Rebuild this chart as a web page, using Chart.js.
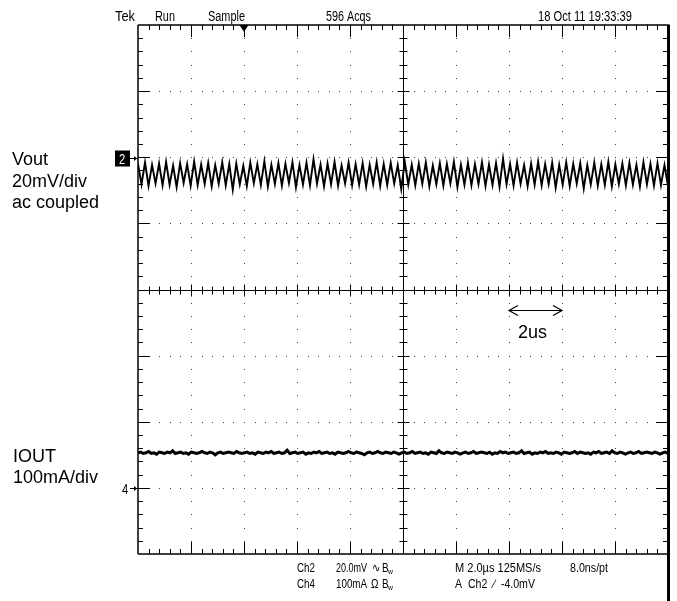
<!DOCTYPE html>
<html><head><meta charset="utf-8">
<script src="https://cdn.jsdelivr.net/npm/chart.js@4/dist/chart.umd.min.js"></script>
<style>html,body{margin:0;padding:0;background:#fff;}canvas{display:block;}</style>
</head><body>
<canvas id="c" width="677" height="601"></canvas>
<script>
// ---- data ----
// Ch2: Vout ripple in mV, relative to the Ch2 ground marker (peak / trough samples)
const voutMv = [
-2.0,-8.2,-1.6,-8.7,-2.3,-7.9,-1.9,-8.5,-1.4,-8.3,-2.5,-9.0,-1.8,-7.8,-2.1,-8.6,-1.3,-8.4,-2.2,-8.1,
-1.7,-8.8,-2.4,-8.0,-1.5,-8.5,-2.0,-9.8,-1.9,-8.2,-2.6,-8.7,-1.6,-7.9,-2.1,-8.4,-1.2,-8.9,-2.3,-8.1,
-1.8,-8.6,-2.0,-7.8,-1.5,-9.1,-2.4,-8.3,-1.7,-8.5,-0.6,-8.0,-2.2,-8.8,-1.9,-8.2,-1.4,-8.6,-2.5,-7.9,
-1.6,-8.5,-2.1,-8.3,-1.8,-8.9,-2.3,-8.1,-1.5,-8.7,-2.0,-8.4,-1.7,-8.0,-2.4,-9.6,-1.3,-8.3,-2.2,-8.5,
-1.9,-8.1,-1.6,-8.8,-2.5,-8.2,-1.8,-8.6,-2.0,-7.9,-1.4,-9.0,-2.3,-8.3,-1.7,-8.5,-2.1,-8.1,-1.5,-8.7,
-2.2,-8.4,-1.8,-8.9,-0.4,-8.2,-2.0,-8.6,-1.6,-8.0,-2.4,-8.8,-1.9,-8.3,-1.3,-8.5,-2.1,-8.1,-1.7,-9.2,
-2.3,-8.3,-1.5,-8.7,-2.0,-8.0,-1.8,-9.5,-2.4,-8.2,-1.6,-8.6,-2.1,-8.4,-1.4,-8.8,-2.2,-8.1,-1.9,-8.5,
-1.7,-8.3,-2.3,-8.9,-1.5,-8.2,-2.0,-8.6,-1.8,-8.4,-2.4,-8.7
];
// Ch4: IOUT in mA, relative to the Ch4 ground marker
const ioutMa = [
53,54,52,53,55,52,53,51,54,53,52,54,53,56,52,53,54,52,53,51,
54,53,52,53,55,53,52,54,53,50,53,54,52,53,54,53,52,55,53,52,
53,54,52,53,51,54,53,52,54,53,55,52,53,54,52,53,57,52,53,54,
52,53,54,51,53,52,54,53,55,52,53,54,52,53,51,54,53,52,53,55,
53,52,54,53,52,50,53,54,52,53,55,53,52,54,53,52,54,53,51,53,
54,52,53,55,52,53,54,52,53,51,54,53,52,56,53,52,54,53,52,54,
53,51,53,54,52,53,55,52,53,54,53,52,54,51,53,52,55,53,54,52,
53,54,52,53,56,52,53,54,51,53,52,54,53,55,52,53,52,54,53,51,
54,53,52,53,55,52,54,53,52,53,51,54,53,55,52,53,54,52,56,53,
52,54,53,51,53,54,52,53,55,52,53,54,53,52,54,53,51,53,54,52
];
// scope settings
const usPerDiv = 2;          // M 2.0us
const hDivs = 10;
const vDivs = 8;
const ch2MvPerDiv = 20;      // 20.0mV
const ch4MaPerDiv = 100;     // 100mA
const ch2GroundDiv = 2;
const ch4GroundDiv = -3;
const triggerUs = 4;
const arrowFromUs = 14, arrowToUs = 16;
// texts
const headerLabels = ["Tek", "Run", "Sample", "596 Acqs", "18 Oct 11 19:33:39"];
const footerRow1 = ["Ch2", "20.0mV", "\u223F", "B", "M 2.0\u00B5s 125MS/s", "8.0ns/pt"];
const footerRow2 = ["Ch4", "100mA", "\u03A9", "B", "A  Ch2  \u2215  -4.0mV"];
const vLabel = ["Vout", "20mV/div", "ac coupled"];
const iLabel = ["IOUT", "100mA/div"];
const arrowLabel = "2us";

const sweepUs = usPerDiv * hDivs;
const voutPts = voutMv.map((mv, i) => ({x: i * sweepUs / (voutMv.length - 1), y: ch2GroundDiv + mv / ch2MvPerDiv}));
const ioutPts = ioutMa.map((ma, i) => ({x: i * sweepUs / (ioutMa.length - 1), y: ch4GroundDiv + ma / ch4MaPerDiv}));

const SANS = '"Liberation Sans", Arial, "DejaVu Sans", sans-serif';

function seg(ctx, x1, y1, x2, y2){ ctx.beginPath(); ctx.moveTo(x1, y1); ctx.lineTo(x2, y2); ctx.stroke(); }
// condensed text: horizontally squeezed sans, fitted to a width (or fixed squeeze)
function narrowText(ctx, t, x, y, size, w, sx){
  ctx.save();
  ctx.font = size + 'px ' + SANS;
  const s = w ? w / ctx.measureText(t).width : sx;
  ctx.translate(x, y); ctx.scale(s, 1);
  ctx.fillText(t, 0, 0);
  ctx.restore();
}

const scopePlugin = {
  id: 'scope',
  beforeDatasetsDraw(chart){
    const {ctx, chartArea: a, scales: {x, y}} = chart;
    ctx.save();
    ctx.fillStyle = '#444';
    for (let d = 1; d < hDivs; d++){
      if (d === hDivs / 2) continue;
      const px = Math.round(x.getPixelForValue(d * usPerDiv));
      for (let s = 1; s < vDivs * 5; s++){
        const py = Math.round(y.getPixelForValue(vDivs / 2 - s * 0.2));
        ctx.fillRect(px, py, 1, 1);
      }
    }
    for (let d = -vDivs / 2 + 1; d < vDivs / 2; d++){
      if (d === 0) continue;
      const py = Math.round(y.getPixelForValue(d));
      for (let s = 1; s < hDivs * 5; s++){
        const px = Math.round(x.getPixelForValue(s * 0.2 * usPerDiv));
        ctx.fillRect(px, py, 1, 1);
      }
    }
    ctx.strokeStyle = '#000'; ctx.lineWidth = 1;
    const cx = Math.round(x.getPixelForValue(sweepUs / 2)) + 0.5;
    const cy = Math.round(y.getPixelForValue(0)) + 0.5;
    seg(ctx, a.left, cy, a.right, cy);
    seg(ctx, cx, a.top, cx, a.bottom);
    for (let s = 1; s < hDivs * 5; s++){
      const px = Math.round(x.getPixelForValue(s * 0.2 * usPerDiv)) + 0.5;
      const L = s % 5 === 0 ? 6 : 4;
      seg(ctx, px, cy - L, px, cy + L);
      const B = s % 5 === 0 ? 12 : 5;
      seg(ctx, px, a.top, px, a.top + B);
      seg(ctx, px, a.bottom, px, a.bottom - B);
    }
    for (let s = 1; s < vDivs * 5; s++){
      const py = Math.round(y.getPixelForValue(vDivs / 2 - s * 0.2)) + 0.5;
      const L = s % 5 === 0 ? 6 : 4;
      seg(ctx, cx - L, py, cx + L, py);
      const B = s % 5 === 0 ? 12 : 5;
      seg(ctx, a.left, py, a.left + B, py);
      seg(ctx, a.right, py, a.right - B, py);
    }
    ctx.restore();
  },
  afterDraw(chart){
    const {ctx, chartArea: a, scales: {x, y}} = chart;
    const H = chart.height;
    ctx.save();
    ctx.strokeStyle = '#000'; ctx.fillStyle = '#000';
    ctx.textBaseline = 'alphabetic'; ctx.textAlign = 'left';
    ctx.lineWidth = 1.5;
    seg(ctx, a.left, a.top, a.right, a.top);
    seg(ctx, a.left, a.top, a.left, a.bottom);
    seg(ctx, a.left, a.bottom, a.right, a.bottom);
    ctx.lineWidth = 3;
    seg(ctx, a.right + 0.5, a.top - 0.5, a.right + 0.5, H);
    // trigger marker
    const tx = x.getPixelForValue(triggerUs);
    ctx.beginPath(); ctx.moveTo(tx - 4.5, a.top); ctx.lineTo(tx + 4.5, a.top); ctx.lineTo(tx, a.top + 7); ctx.closePath(); ctx.fill();
    // ch2 marker
    const c2 = Math.round(y.getPixelForValue(ch2GroundDiv)) + 1.5;
    ctx.fillRect(115, c2 - 8, 15, 16);
    ctx.fillStyle = '#fff';
    narrowText(ctx, '2', 119, c2 + 5, 14, 0, 0.8);
    ctx.fillStyle = '#000'; ctx.lineWidth = 1;
    seg(ctx, 130, c2, a.left, c2);
    ctx.beginPath(); ctx.moveTo(a.left - 1, c2); ctx.lineTo(a.left - 4, c2 - 2.5); ctx.lineTo(a.left - 4, c2 + 2.5); ctx.closePath(); ctx.fill();
    // ch4 marker
    const c4 = Math.round(y.getPixelForValue(ch4GroundDiv)) + 0.5;
    narrowText(ctx, '4', 122, c4 + 5, 14, 0, 0.8);
    seg(ctx, 130, c4, a.left, c4);
    ctx.beginPath(); ctx.moveTo(a.left - 1, c4); ctx.lineTo(a.left - 4, c4 - 2.5); ctx.lineTo(a.left - 4, c4 + 2.5); ctx.closePath(); ctx.fill();
    // header
    const hx = [115, 155, 208, 326, 538];
    const hw = [20, 20, 37, 45, 94];
    headerLabels.forEach((t, i) => narrowText(ctx, t, hx[i], 21, 14, hw[i]));
    // footer
    const fx1 = [297, 336, 372, 382, 455, 570];
    const fw1 = [18, 31, 0, 0, 86, 38];
    footerRow1.forEach((t, i) => narrowText(ctx, t, fx1[i], 572, 12.5, fw1[i], 0.8));
    const fx2 = [297, 336, 371, 382, 455];
    const fw2 = [18, 31, 0, 0, 80];
    footerRow2.forEach((t, i) => narrowText(ctx, t, fx2[i], 588, 12.5, fw2[i], 0.8));
    narrowText(ctx, 'w', 388, 574, 8, 0, 0.85);
    narrowText(ctx, 'w', 388, 590, 8, 0, 0.85);
    // left labels
    ctx.font = '18px ' + SANS;
    [165, 187, 208].forEach((by, i) => ctx.fillText(vLabel[i], 12, by));
    [462, 483].forEach((by, i) => ctx.fillText(iLabel[i], 13, by));
    // 2us arrow
    const ax1 = x.getPixelForValue(arrowFromUs), ax2 = x.getPixelForValue(arrowToUs);
    const ay = 310.5;
    ctx.lineWidth = 1.2;
    seg(ctx, ax1, ay, ax2, ay);
    ctx.beginPath(); ctx.moveTo(ax1 + 9, ay - 5); ctx.lineTo(ax1, ay); ctx.lineTo(ax1 + 9, ay + 5); ctx.stroke();
    ctx.beginPath(); ctx.moveTo(ax2 - 9, ay - 5); ctx.lineTo(ax2, ay); ctx.lineTo(ax2 - 9, ay + 5); ctx.stroke();
    ctx.font = '18px ' + SANS;
    ctx.fillText(arrowLabel, 518, 338);
    ctx.restore();
  }
};

new Chart(document.getElementById('c'), {
  type: 'line',
  data: {
    datasets: [
      {label: 'Vout', data: voutPts, borderColor: '#000', borderWidth: 1.9, pointRadius: 0, tension: 0},
      {label: 'IOUT', data: ioutPts, borderColor: '#000', borderWidth: 3, pointRadius: 0, tension: 0}
    ]
  },
  options: {
    responsive: false,
    animation: false,
    devicePixelRatio: 1,
    layout: {padding: {left: 138, right: 9, top: 25, bottom: 47}},
    plugins: {legend: {display: false}, tooltip: {enabled: false}},
    scales: {
      x: {type: 'linear', min: 0, max: sweepUs, display: false},
      y: {type: 'linear', min: -vDivs / 2, max: vDivs / 2, display: false}
    }
  },
  plugins: [scopePlugin]
});
</script>
</body></html>
